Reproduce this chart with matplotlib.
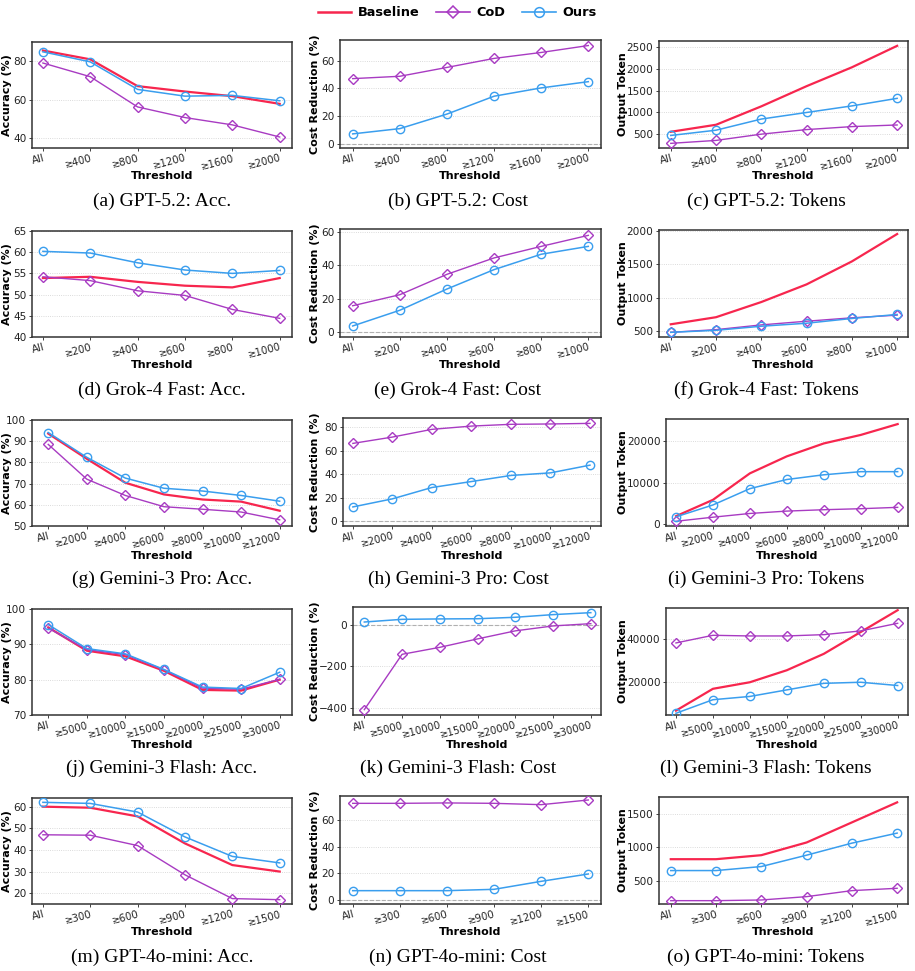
import matplotlib
matplotlib.use("Agg")
import matplotlib.pyplot as plt
from matplotlib.lines import Line2D

W, H = 915, 971
C_BASE = "#F7264E"
C_COD = "#A83BC2"
C_OURS = "#3A9EEE"

# ---------------- data ----------------
models = ["GPT-5.2", "Grok-4 Fast", "Gemini-3 Pro", "Gemini-3 Flash", "GPT-4o-mini"]

thr_gpt52 = ["All", "≳400", "≳800", "≳1200", "≳1600", "≳2000"]
thr_grok = ["All", "≳200", "≳400", "≳600", "≳800", "≳1000"]
thr_gpro = ["All", "≳2000", "≳4000", "≳6000", "≳8000", "≳10000", "≳12000"]
thr_gflash = ["All", "≳5000", "≳10000", "≳15000", "≳20000", "≳25000", "≳30000"]
thr_4omini = ["All", "≳300", "≳600", "≳900", "≳1200", "≳1500"]

# GPT-5.2
acc_base_gpt52 = [85.6, 81.0, 67.1, 64.3, 61.9, 57.9]
acc_cod_gpt52 = [79.1, 72.0, 56.3, 50.8, 47.0, 40.7]
acc_ours_gpt52 = [84.9, 79.7, 65.4, 61.9, 62.3, 59.5]
cost_cod_gpt52 = [47.1, 48.8, 55.2, 61.7, 66.0, 71.0]
cost_ours_gpt52 = [7.2, 11.0, 21.5, 34.4, 40.4, 44.9]
tok_base_gpt52 = [560, 720, 1140, 1600, 2030, 2520]
tok_cod_gpt52 = [296, 363, 506, 610, 678, 715]
tok_ours_gpt52 = [476, 596, 850, 1000, 1150, 1322]

# Grok-4 Fast
acc_base_grok = [53.9, 54.2, 53.0, 52.1, 51.7, 53.9]
acc_cod_grok = [54.2, 53.3, 50.9, 49.8, 46.5, 44.4]
acc_ours_grok = [60.2, 59.8, 57.5, 55.8, 55.0, 55.7]
cost_cod_grok = [15.9, 22.5, 34.7, 44.5, 51.4, 58.0]
cost_ours_grok = [3.8, 13.2, 25.9, 37.5, 46.7, 51.4]
tok_base_grok = [600, 706, 933, 1197, 1540, 1950]
tok_cod_grok = [480, 520, 591, 646, 697, 737]
tok_ours_grok = [480, 510, 571, 616, 687, 747]

# Gemini-3 Pro
acc_base_gpro = [93.6, 81.7, 70.4, 64.9, 62.5, 61.5, 57.2]
acc_cod_gpro = [88.5, 72.1, 64.4, 59.1, 57.9, 56.6, 52.9]
acc_ours_gpro = [94.1, 82.4, 72.6, 67.8, 66.5, 64.4, 61.7]
cost_cod_gpro = [66.3, 71.7, 78.3, 81.1, 82.6, 82.9, 83.4]
cost_ours_gpro = [12.0, 18.9, 28.6, 33.7, 38.9, 41.1, 47.7]
tok_base_gpro = [1960, 5880, 12245, 16330, 19430, 21470, 24080]
tok_cod_gpro = [735, 1715, 2610, 3180, 3510, 3755, 4080]
tok_ours_gpro = [1800, 4650, 8570, 10770, 11900, 12650, 12650]

# Gemini-3 Flash
acc_base_gflash = [94.8, 88.2, 86.6, 82.5, 77.1, 76.9, 80.0]
acc_cod_gflash = [94.6, 88.5, 87.1, 82.8, 77.6, 77.3, 80.1]
acc_ours_gflash = [95.6, 88.8, 87.3, 82.9, 77.9, 77.5, 82.1]
cost_cod_gflash = [-410, -141, -107, -66, -27, -3, 8]
cost_ours_gflash = [16, 29, 31, 32, 39, 52, 61.5]
tok_base_gflash = [7000, 17000, 20000, 25500, 33000, 43000, 53000]
tok_cod_gflash = [38000, 41500, 41200, 41200, 41800, 43500, 47000]
tok_ours_gflash = [5800, 12000, 13500, 16500, 19500, 20000, 18500]

# GPT-4o-mini
acc_base_4omini = [60.0, 59.5, 55.5, 43.0, 33.0, 30.0]
acc_cod_4omini = [47.0, 46.8, 42.0, 28.5, 17.5, 17.0]
acc_ours_4omini = [62.0, 61.5, 57.5, 46.0, 37.0, 34.0]
cost_cod_4omini = [72.5, 72.5, 72.8, 72.5, 71.5, 75.0]
cost_ours_4omini = [7.0, 7.0, 7.0, 8.0, 14.0, 19.5]
tok_base_4omini = [820, 820, 880, 1070, 1370, 1670]
tok_cod_4omini = [200, 200, 210, 260, 350, 385]
tok_ours_4omini = [650, 650, 710, 880, 1060, 1210]

rows = [
    dict(model="GPT-5.2", thr=thr_gpt52,
         acc=(acc_base_gpt52, acc_cod_gpt52, acc_ours_gpt52), acc_t=[40, 60, 80], acc_l=(35, 90),
         cost=(cost_cod_gpt52, cost_ours_gpt52), cost_t=[0, 20, 40, 60], cost_l=(-3, 75),
         tok=(tok_base_gpt52, tok_cod_gpt52, tok_ours_gpt52), tok_t=[500, 1000, 1500, 2000, 2500], tok_l=(190, 2630),
         pads=((0.23, 0.26), (0.27, 0.27), (0.26, 0.24)), lefts=(32, 340, 659)),
    dict(model="Grok-4 Fast", thr=thr_grok,
         acc=(acc_base_grok, acc_cod_grok, acc_ours_grok), acc_t=[40, 45, 50, 55, 60, 65], acc_l=(40, 65),
         cost=(cost_cod_grok, cost_ours_grok), cost_t=[0, 20, 40, 60], cost_l=(-2.8, 61.8),
         tok=(tok_base_grok, tok_cod_grok, tok_ours_grok), tok_t=[500, 1000, 1500, 2000], tok_l=(410, 2010),
         pads=((0.23, 0.26), (0.27, 0.27), (0.26, 0.24)), lefts=(32, 340, 659)),
    dict(model="Gemini-3 Pro", thr=thr_gpro,
         acc=(acc_base_gpro, acc_cod_gpro, acc_ours_gpro), acc_t=[50, 60, 70, 80, 90, 100], acc_l=(50, 100),
         cost=(cost_cod_gpro, cost_ours_gpro), cost_t=[0, 20, 40, 60, 80], cost_l=(-4.3, 88),
         tok=(tok_base_gpro, tok_cod_gpro, tok_ours_gpro), tok_t=[0, 10000, 20000], tok_l=(-400, 25300),
         pads=((0.42, 0.32), (0.25, 0.28), (0.27, 0.28)), lefts=(32, 343, 666)),
    dict(model="Gemini-3 Flash", thr=thr_gflash,
         acc=(acc_base_gflash, acc_cod_gflash, acc_ours_gflash), acc_t=[70, 80, 90, 100], acc_l=(70, 100),
         cost=(cost_cod_gflash, cost_ours_gflash), cost_t=[-400, -200, 0], cost_l=(-436, 89),
         tok=(tok_base_gflash, tok_cod_gflash, tok_ours_gflash), tok_t=[20000, 40000], tok_l=(5000, 54000),
         pads=((0.42, 0.32), (0.3, 0.27), (0.27, 0.28)), lefts=(32, 353, 666)),
    dict(model="GPT-4o-mini", thr=thr_4omini,
         acc=(acc_base_4omini, acc_cod_4omini, acc_ours_4omini), acc_t=[20, 30, 40, 50, 60], acc_l=(15, 64),
         cost=(cost_cod_4omini, cost_ours_4omini), cost_t=[0, 20, 40, 60], cost_l=(-3, 78),
         tok=(tok_base_4omini, tok_cod_4omini, tok_ours_4omini), tok_t=[500, 1000, 1500], tok_l=(150, 1750),
         pads=((0.23, 0.26), (0.27, 0.27), (0.26, 0.24)), lefts=(32, 340, 659)),
]

letters = "abcdefghijklmno"

fig = plt.figure(figsize=(W / 100, H / 100), dpi=100)

def px_axes(x0, y0, x1, y1):
    return fig.add_axes([x0 / W, 1 - y1 / H, (x1 - x0) / W, (y1 - y0) / H])

col_right = [292, 601, 908]
col_top = [42, 40, 41]
ylab_px = [12, 320, 628]
row_h = 189

def style(ax, thr, yt, yl, ylabel, pads, lx, zero=False):
    n = len(thr)
    ax.set_xlim(-pads[0], n - 1 + pads[1])
    ax.set_xticks(range(n))
    ax.set_xticklabels(thr, rotation=15, ha="right", rotation_mode="anchor", fontsize=7.3)
    ax.set_yticks(yt)
    ax.set_ylim(*yl)
    ax.tick_params(axis="y", labelsize=7.6, length=2, width=0.6, pad=2, colors="#222222")
    ax.tick_params(axis="x", length=2, width=0.6, pad=1.5, colors="#222222")
    ax.grid(axis="y", linestyle=":", linewidth=0.6, color="#cfcfcf")
    ax.set_axisbelow(True)
    for s in ax.spines.values():
        s.set_color("#333333")
        s.set_linewidth(1.1)
    ax.set_ylabel(ylabel, fontsize=8, fontweight="bold")
    ax.yaxis.set_label_coords(lx, 0.5)
    ax.set_xlabel("Threshold", fontsize=8, fontweight="bold", labelpad=0)
    if zero:
        ax.axhline(0, color="#b0b0b0", linestyle="--", linewidth=0.8, zorder=1)

def plot_lines(ax, base, cod, ours):
    x = range(len(cod))
    if base is not None:
        ax.plot(x, base, color=C_BASE, lw=1.6, zorder=3)
    ax.plot(x, cod, color=C_COD, lw=1.0, marker="D", ms=5, mfc="none", mew=1.0, zorder=4)
    ax.plot(x, ours, color=C_OURS, lw=1.1, marker="o", ms=6, mfc="none", mew=1.0, zorder=5)

for r, row in enumerate(rows):
    top = [t + r * row_h for t in col_top]
    bottom = 148 + r * row_h
    pads = row["pads"]
    lefts = row["lefts"]
    specs = [
        (row["acc"], False, row["acc_t"], row["acc_l"], "Accuracy (%)"),
        ((None,) + tuple(row["cost"]), True, row["cost_t"], row["cost_l"], "Cost Reduction (%)"),
        (row["tok"], False, row["tok_t"], row["tok_l"], "Output Token"),
    ]
    for c, (series, zero, yt, yl, lab) in enumerate(specs):
        ax = px_axes(lefts[c], top[c], col_right[c], bottom)
        plot_lines(ax, *series)
        lx = (ylab_px[c] - lefts[c]) / (col_right[c] - lefts[c])
        style(ax, row["thr"], yt, yl, lab, pads[c], lx, zero=zero)

    cap_y = 201 + r * row_h
    kinds = ["Acc.", "Cost", "Tokens"]
    cx = [162, 458, 766]
    for c in range(3):
        fig.text(cx[c] / W, 1 - cap_y / H,
                 f"({letters[r * 3 + c]}) {row['model']}: {kinds[c]}",
                 ha="center", va="center", fontsize=14, family="Liberation Serif")

handles = [
    Line2D([], [], color=C_BASE, lw=1.8),
    Line2D([], [], color=C_COD, lw=1.2, marker="D", ms=6, mfc="none", mew=1.1),
    Line2D([], [], color=C_OURS, lw=1.2, marker="o", ms=7, mfc="none", mew=1.1),
]
fig.legend(handles, ["Baseline", "CoD", "Ours"], loc="center", bbox_to_anchor=(457 / W, 1 - 13 / H),
           ncol=3, frameon=False, prop=dict(weight="bold", size=9.3), handlelength=2.6,
           columnspacing=1.3, handletextpad=0.5)

fig.savefig("out.png", dpi=100)
